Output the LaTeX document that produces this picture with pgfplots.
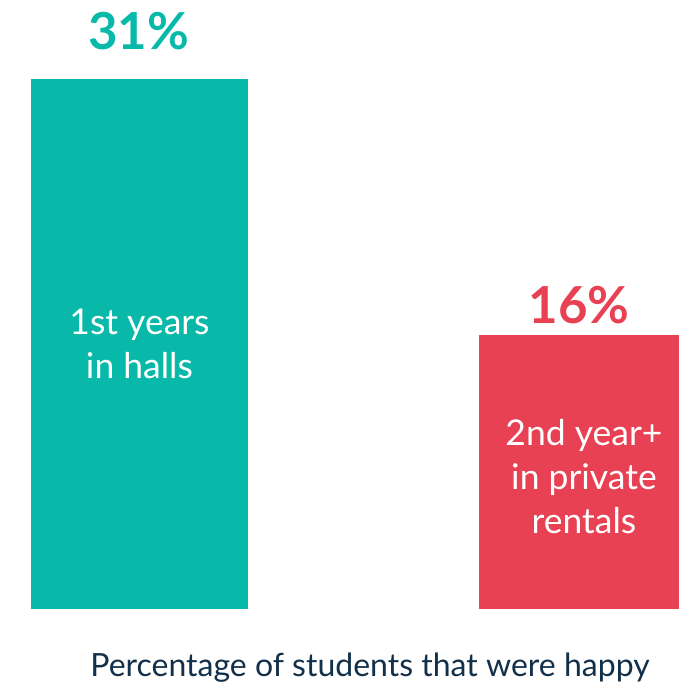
\documentclass[border=0pt]{standalone}
\usepackage{fontspec}
\setmainfont{Lato}
\usepackage{pgfplots}
\pgfplotsset{compat=1.18}
\definecolor{tealbar}{HTML}{08B9AA}
\definecolor{redbar}{HTML}{E84153}
\definecolor{navy}{HTML}{12304A}
\begin{document}
\begin{tikzpicture}
\begin{axis}[
  name=main,
  scale only axis,
  width=679pt, height=686pt,
  xmin=0, xmax=679,
  ymin=-4.503, ymax=35.614,
  hide axis,
  clip=false,
  ybar, bar shift=0pt,
  /pgf/number format/assume math mode=true,
  nodes near coords={\pgfmathprintnumber{\pgfplotspointmeta}\%},
  nodes near coords align={vertical},
  every node near coord/.append style={font=\fontsize{51}{53}\selectfont\bfseries, anchor=base},
]
\addplot[fill=tealbar, draw=none, bar width=217pt,
  every node near coord/.append style={text=tealbar, yshift=29pt, xshift=-1pt}]
  coordinates {(139.5,31)};
\addplot[fill=redbar, draw=none, bar width=200pt,
  every node near coord/.append style={text=redbar, yshift=12pt}]
  coordinates {(579,16)};
\node[text=white, align=center, font=\fontsize{35.5}{44}\selectfont]
  at (axis cs:139.5,15.5) {1st years\\in halls};
\node[text=white, align=center, font=\fontsize{35.5}{44}\selectfont]
  at (axis cs:584,7.72) {2nd year+\\in private\\rentals};
\node[text=navy, font=\fontsize{32}{36}\selectfont]
  at (axis cs:370,-3.45) {Percentage of students that were happy};
\end{axis}
\useasboundingbox (main.south west) rectangle (main.north east);
\end{tikzpicture}
\end{document}
